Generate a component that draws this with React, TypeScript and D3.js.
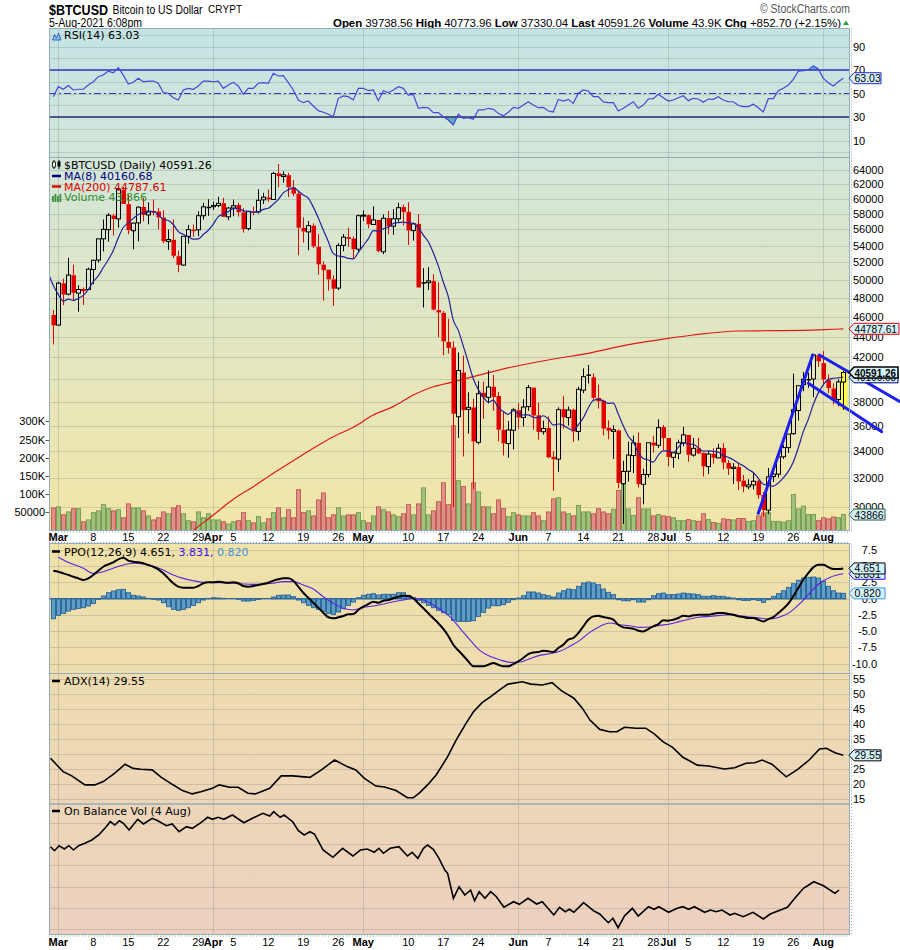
import React from 'react';
import * as d3 from 'd3';

// ---------------- data (daily, first bar = 28-Feb-2021) ----------------
const opens = [46194,
  45159, 49612, 48416, 50522, 48527, 48899, 48919, 51174, 52273, 54824, 55964, 57773, 57343, 61221, 59267, 55840, 56826, 58893, 57850, 58332, 58309, 57517, 54511, 54710, 52726, 51683, 55137, 55974, 55947, 57750, 58930,
  58926, 59098, 59397, 57604, 58760, 59171, 58186, 56099, 58326, 58253, 59846, 60175, 59890, 63523, 63075, 63258, 61530, 60702, 56191, 55681, 56471, 53857, 51739, 51143, 50052, 49077, 54030, 55036, 54858, 53568,
  57714, 57825, 56621, 57214, 53252, 57441, 56413, 57352, 58877, 58251, 55847, 56714, 49735, 49682, 49855, 46716, 46415, 43489, 42944, 36753, 40596, 37371, 37531, 34701, 38795, 38393, 39316, 38508, 35684, 34607, 35659,
  37293, 36699, 37599, 39242, 36880, 35538, 35835, 33589, 33416, 37389, 36697, 37340, 35555, 39016, 40427, 40168, 38341, 38099, 35854, 35563, 35641, 31623, 32515, 33682, 34659, 31576, 32283, 34679, 34475, 35908,
  35035, 33549, 33854, 34665, 35285, 33724, 34225, 33889, 32862, 33812, 33509, 34254, 33125, 32724, 32827, 31841, 31397, 31534, 31800, 30838, 29796, 32138, 32305, 33593, 34290, 35384, 37276, 39504, 40010, 40017, 42207,
  41461, 39908, 39164, 38207, 39738.56];
const highs = [46716,
  49784, 50127, 52535, 51735, 49396, 49147, 51384, 52314, 54824, 57258, 58092, 58011, 61683, 61597, 60540, 56833, 58970, 60116, 59498, 59888, 58767, 58471, 55985, 57262, 53392, 55137, 56568, 56610, 58342, 59447, 59930,
  59586, 60267, 60110, 58913, 59891, 59479, 58731, 58338, 58937, 61276, 60790, 61253, 63742, 64863, 63821, 63594, 62572, 61057, 57520, 57062, 56757, 55410, 52120, 51167, 50506, 54288, 55416, 56227, 55115, 57900,
  58448, 57902, 58973, 57214, 57912, 58363, 58606, 59464, 59210, 59520, 56872, 57939, 51330, 51438, 50639, 49720, 46623, 45800, 43546, 42462, 42172, 38832, 38271, 39835, 39776, 40782, 40379, 38856, 37234, 36400, 37469,
  37896, 38231, 39478, 39242, 37917, 36436, 36790, 34017, 37537, 38492, 37608, 37436, 39322, 40978, 41295, 40516, 39513, 38187, 36457, 36059, 35721, 33292, 34753, 35228, 35487, 32707, 34656, 35219, 36542, 36074,
  35035, 33940, 34909, 35937, 35284, 35038, 35059, 33908, 34042, 34239, 34592, 34633, 33340, 33115, 33159, 32249, 31935, 32398, 31885, 31006, 32752, 32576, 33581, 34490, 35364, 40499, 39406, 40640, 40578, 42236, 42236,
  42599, 40420, 39619, 39970, 40773.96];
const lows = [43241,
  45115, 47228, 48275, 47656, 46542, 47257, 48918, 49507, 51981, 53290, 54484, 55240, 56218, 59302, 55393, 53555, 54528, 57023, 56643, 57779, 56005, 54288, 53470, 52514, 50856, 51579, 54242, 55072, 55139, 57251, 57726,
  58505, 58870, 57603, 57168, 57694, 57646, 55604, 55879, 57807, 58038, 59289, 59589, 59869, 61554, 62208, 60222, 60361, 52829, 54368, 53448, 53695, 50583, 47714, 48805, 47159, 48852, 53319, 53887, 52418, 53129,
  57052, 56141, 56590, 53191, 52969, 55382, 55321, 56975, 56483, 54072, 54608, 49150, 46980, 48868, 46664, 43963, 42207, 42367, 30000, 35050, 33616, 35383, 31227, 34551, 36581, 37868, 37247, 34779, 33693, 33520, 34153,
  35787, 35966, 37243, 35717, 34900, 35304, 33480, 31114, 32475, 35786, 36044, 34748, 34848, 38757, 39609, 38176, 37439, 35255, 34933, 33432, 31295, 28893, 31772, 32385, 31351, 30184, 32071, 33902, 34252, 34086,
  32883, 32771, 33403, 34396, 33213, 33600, 33777, 32133, 32318, 33069, 33504, 32658, 32243, 31600, 31175, 31021, 31223, 31216, 30563, 29360, 29526, 31745, 32057, 33424, 33881, 35287, 36441, 38934, 39229, 38397, 41110,
  39422, 38746, 37782, 37640, 37330.04];
const closes = [45137,
  49631, 48378, 50538, 48561, 48927, 48912, 51206, 52246, 54824, 56008, 57805, 57332, 61243, 59302, 55907, 56804, 58870, 57858, 58346, 58313, 57523, 54529, 54738, 52774, 51704, 55137, 55974, 55947, 57750, 58917, 58918,
  59095, 59384, 57604, 58759, 59057, 58192, 56048, 58323, 58245, 59793, 60204, 59893, 63503, 63109, 63314, 61572, 60683, 56216, 55724, 56473, 53906, 51762, 51093, 50050, 49004, 54021, 55033, 54824, 53555, 57750,
  57828, 56631, 57200, 53333, 57424, 56396, 57356, 58803, 58232, 55859, 56704, 49150, 49716, 49880, 46760, 46456, 43537, 42910, 37002, 40782, 37304, 37536, 34770, 38705, 38402, 39294, 38436, 35697, 34616, 35678, 37333,
  36693, 37568, 39248, 36857, 35520, 35796, 33552, 33403, 37345, 36703, 37313, 35551, 39097, 40218, 40406, 38347, 38053, 35787, 35615, 35698, 31676, 32506, 33723, 34663, 31594, 32276, 34668, 34455, 35867, 35040,
  33573, 33897, 34668, 35287, 33746, 34235, 33855, 32877, 33798, 33520, 34240, 33155, 32702, 32822, 31780, 31421, 31533, 31796, 30817, 29807, 32110, 32314, 33581, 34292, 35350, 37337, 39406, 39996, 40008, 42235, 41626,
  39975, 39201, 38153, 39747, 40591.26];
// closes 20-Feb .. 27-Feb (needed for the 8-day average at the left edge)
const priorCloses = [55888, 57539, 54208, 48825, 49705, 47093, 46339, 46188];

const volumesK = [62, 65, 43, 51, 60, 60, 24, 29, 49, 54, 71, 60, 54, 57, 35, 73, 62, 62, 54, 40, 29, 35, 51, 46, 62, 68, 46, 27, 24, 51, 35, 46, 29, 29, 24, 18, 24, 27, 49, 27,
  21, 38, 21, 32, 49, 62, 35, 57, 35, 112, 49, 54, 40, 84, 103, 35, 43, 62, 40, 43, 43, 49, 27, 21, 40, 65, 57, 51, 43, 38, 46, 71, 43, 73, 117, 43, 54, 79, 131, 71,
  288, 137, 121, 73, 131, 106, 65, 65, 46, 84, 60, 38, 49, 43, 40, 40, 49, 40, 27, 51, 87, 90,
  51, 46, 40, 69, 51, 51, 46, 60, 51, 46, 58, 110, 128, 59, 41, 90, 59, 59, 40, 44, 40, 38, 35, 27, 27, 30, 27, 25, 46, 30,
  22, 20, 32, 30, 29, 33, 33, 25, 27, 40, 48, 50, 25, 25, 23, 27, 99, 59, 67, 44, 44, 27, 35, 32, 37, 35, 43.866];

const rsi14 = [47.3, 55.8, 53.6, 56.7, 53.0, 53.6, 53.6, 57.2, 60.0, 64.3, 65.7, 69.1, 67.7, 72.0, 65.7, 58.1, 59.5, 62.9, 60.0, 60.6, 60.6, 58.7, 50.7, 50.2, 46.4, 44.5, 53.0, 54.4, 53.6, 56.4,
  60.6, 60.6, 60.0, 60.6, 54.4, 57.2, 59.5, 56.4, 49.3, 54.4, 54.4, 58.7, 59.2, 58.7, 67.2, 64.9, 65.2, 59.2, 53.0, 44.5, 42.2, 43.6, 39.4, 35.4, 34.0, 32.3, 30.3, 45.9, 47.9, 47.3,
  44.5, 54.4, 54.4, 52.4, 53.0, 43.9, 52.4, 50.7, 53.0, 55.8, 54.4, 48.7, 49.3, 37.4, 38.2, 37.9, 33.7, 33.7, 30.3, 27.4,
  23.2, 32.3, 28.9, 29.4, 28.0, 36.0, 36.0, 37.4, 36.5, 33.1, 31.1, 34.0, 38.2, 37.4, 40.2, 43.0, 40.2, 37.9, 38.2, 35.1, 34.3, 45.0, 43.6, 45.0, 41.6, 50.2, 53.0, 52.1, 47.3, 47.3,
  42.8, 42.2, 42.2, 35.1, 37.4, 40.2, 43.0, 37.4, 40.2, 45.3, 45.6, 49.3, 46.4, 43.6, 44.5, 46.4, 48.1, 43.9, 45.9, 45.3, 42.5, 45.3, 45.0, 47.3, 44.5, 43.0, 43.0, 40.0, 38.8, 38.8,
  40.8, 37.9, 34.3, 45.6, 45.6, 52.4, 54.4, 57.2, 62.1, 69.1, 69.4, 70.0, 73.7, 70.9, 62.9, 59.2, 56.4, 60.0, 63.03];

const ppoLine = [4.31, 4.15, 3.90, 3.65, 3.38, 3.13, 2.88, 3.13, 3.65, 4.31, 4.92, 5.29, 5.60, 6.06, 6.31, 5.85, 5.69, 5.60, 5.45, 5.18, 4.92, 4.52, 3.90, 3.13, 2.37, 1.85, 1.69, 1.69, 1.69, 1.95,
  2.37, 2.52, 2.52, 2.62, 2.52, 2.46, 2.52, 2.37, 1.95, 1.85, 1.95, 2.10, 2.26, 2.46, 2.77, 2.98, 3.13, 3.13, 2.77, 1.85, 0.92, 0.15, -0.62, -1.38, -2.15, -2.86, -3.02, -2.86, -2.66, -2.40,
  -2.35, -1.74, -1.23, -0.82, -0.46, -0.62, -0.31, -0.20, 0.06, 0.31, 0.46, 0.40, 0.06, -0.71, -1.48, -2.25, -3.02, -3.78, -4.66, -5.74,
  -7.08, -7.95, -8.77, -9.64, -10.4, -10.4, -10.4, -10.15, -9.9, -10.15, -10.4, -10.4, -10.05, -9.64, -9.13, -8.51, -8.26, -8.2, -8.0, -8.1, -8.2, -7.59, -7.08, -6.3, -6.05, -5.28, -4.26, -3.23, -2.72, -2.62,
  -2.82, -2.97, -3.23, -4.0, -4.41, -4.51, -4.62, -4.92, -5.03, -4.67, -4.26, -3.9, -3.33, -3.38, -3.23, -2.97, -2.62, -2.72, -2.56, -2.46, -2.46, -2.46, -2.31, -2.2, -2.2, -2.36, -2.46, -2.72, -2.82, -2.97,
  -2.97, -3.23, -3.49, -3.13, -2.82, -2.2, -1.54, -0.77, 0.36, 1.64, 2.92, 3.95, 4.82, 5.23, 5.23, 4.87, 4.56, 4.56, 4.651];

const ppoHist = [-3.08, -2.56, -2.26, -1.9, -1.64, -1.49, -1.38, -1.13, -0.72, -0.1, 0.41, 0.92, 1.18, 1.38, 1.44, 0.92, 0.51, 0.41, 0.26, 0.05, -0.1, -0.2, -0.62, -1.23, -1.64, -1.79, -1.64, -1.38, -1.03, -0.62,
  -0.2, 0.05, 0.15, 0.1, 0.05, 0, 0, -0.1, -0.36, -0.36, -0.26, -0.1, 0, 0, 0.26, 0.51, 0.56, 0.56, 0.31, -0.2, -0.62, -1.03, -1.38, -1.64, -1.95, -2.26, -2.41, -2.05, -1.54, -1.03,
  -0.51, 0.15, 0.51, 0.67, 0.77, 0.56, 0.67, 0.67, 0.67, 0.92, 0.92, 0.51, 0.15, -0.26, -0.62, -1.03, -1.38, -1.79, -2.15, -2.41,
  -3.33, -3.49, -3.49, -3.49, -3.38, -2.72, -2.1, -1.44, -1.08, -1.08, -0.92, -0.56, -0.15, 0.1, 0.46, 1.03, 1.03, 0.87, 0.62, 0.46, 0.26, 0.87, 1.23, 1.49, 1.38, 1.9, 2.41, 2.56, 2.41, 2.15,
  1.49, 0.97, 0.62, -0.15, -0.31, -0.31, -0.15, -0.51, -0.51, -0.15, 0.46, 0.77, 0.87, 0.62, 0.62, 0.72, 0.87, 0.77, 0.72, 0.62, 0.36, 0.36, 0.46, 0.36, 0.36, 0.21, 0.1, -0.15, -0.26, -0.26,
  -0.15, -0.26, -0.56, -0.15, 0.36, 0.77, 1.23, 1.74, 2.31, 2.82, 3.18, 3.28, 3.33, 3.18, 2.67, 1.9, 1.23, 0.87, 0.82];

// signal line, read at day offsets from 1-Mar
const signalDays = [0, 1.67, 5, 7, 9, 11, 13, 15, 17, 19, 21, 23, 25, 27, 29, 31, 33, 35, 37, 39, 41, 43, 45, 47, 49, 51, 53, 55, 57, 59, 61, 63, 65, 67, 69, 71, 73, 75, 77, 78.3,
  80.3, 82.3, 84.3, 86.3, 88.3, 90.3, 92.3, 94.3, 96.3, 98.3, 100.3, 102.3, 104.3, 106.3, 108.3, 110.3, 112.3, 114.3, 116.3, 118.3, 120.3, 122.3, 124.3, 126.3, 128.3, 130.3, 132.3, 134.3, 136.3, 138.3, 140.3, 142.3, 144.3, 146.3, 148.3, 150.3, 152.3, 154.3, 157];
const signalValues = [6.37, 5.7, 4.68, 3.9, 4.15, 4.68, 5.18, 5.45, 5.35, 5.0, 4.4, 3.65, 3.13, 2.77, 2.52, 2.46, 2.46, 2.37, 2.26, 2.2, 2.26, 2.37, 2.62, 2.62, 2.1, 1.49, 0.31, -0.71, -1.48, -1.74, -1.33, -1.12, -0.82, -0.46, -0.2, 0.06, -0.2, -0.97, -2.0, -2.75,
  -4.51, -6.3, -7.95, -8.87, -9.38, -9.79, -9.74, -9.23, -8.72, -8.46, -8.1, -7.33, -6.41, -5.18, -4.26, -3.74, -4.0, -4.15, -4.41, -4.36, -4.1, -3.9, -3.49, -3.13, -2.82, -2.72, -2.56, -2.46, -2.62, -2.82, -2.97, -3.13, -2.82, -2.1, -0.77, 0.87, 2.41, 3.28, 3.831];

const ma200Days = [25, 29, 31, 35, 39, 43, 47, 51, 55, 59, 63, 67, 71, 75, 79, 83, 91, 95, 100, 106, 113, 122, 127, 136, 143, 152, 157];
const ma200Values = [27970, 28970, 29470, 30530, 31410, 32370, 33300, 34240, 35140, 35890, 36900, 37600, 38600, 39320, 39750, 40220, 41130, 41500, 41920, 42390, 43120, 43840, 44170, 44570, 44600, 44680, 44787.61];

const adxDays = [-1.56, 0.97, 2.69, 5.33, 7.28, 9.0, 11.3, 13.36, 14.97, 16.46, 18.76, 20.48, 22.77, 24.84, 26.79, 28.51, 30.81, 32.19, 34.25, 35.97, 37.92, 39.42, 42.29, 44.58, 46.88, 50.32, 52.62, 55.26, 57.78, 59.5,
  61.23, 63.52, 65.24, 67.54, 69.83, 70.98, 72.13, 73.85, 75.57, 77.87, 79.59, 81.54, 83.03, 84.76, 86.48, 88.2, 89.92, 92.79, 94.51, 96.81, 98.76, 100.6, 103.12, 104.84, 106.33, 108.29, 110.24, 111.73, 113.22, 115.52,
  117.47, 119.19, 120.91, 122.86, 124.93, 127.8, 130.09, 133.19, 135.26, 137.55, 139.28, 140.77, 142.72, 145.59, 147.88, 150.18, 152.25, 153.62, 155.34, 157];
const adxValues = [28.6, 24.1, 22.7, 19.7, 19.7, 20.8, 23.6, 26.6, 25.2, 24.9, 24.7, 22.4, 19.9, 17.8, 16.7, 17.4, 18.6, 19.7, 18.9, 18.9, 16.9, 16.7, 18.6, 22.7, 22.7, 22.2, 24.7, 28.0, 25.8, 24.7,
  21.9, 19.3, 19.0, 17.8, 15.4, 15.4, 16.9, 19.7, 23.0, 29.1, 34.7, 40.2, 44.1, 47.1, 49.1, 51.3, 53.3, 54.1, 53.3, 53.0, 53.8, 51.1, 48.6, 45.2, 41.3, 38.2, 37.4, 37.4, 38.9, 38.6,
  38.6, 36.7, 34.1, 32.2, 28.9, 26.3, 26.0, 25.0, 25.4, 26.9, 27.1, 28.0, 26.6, 22.4, 24.9, 28.0, 31.7, 31.9, 30.4, 29.55];

const obvDays = [-1.56, -0.76, 0.16, 1.2, 2.12, 3.04, 4.06, 5.32, 6.7, 8.08, 9.58, 10.38, 11.3, 12.22, 13.02, 14.16, 15.88, 17.04, 18.76, 19.9, 21.62, 22.78, 24.16, 25.64, 26.8, 28.52, 29.88, 30.8, 31.96, 33.1,
  34.82, 37.12, 38.84, 40.9, 42.28, 43.08, 44.36, 45.16, 46.88, 48.02, 49.18, 50.32, 51.24, 52.96, 54.92, 56.86, 58.92, 60.42, 61.8, 63.18, 64.1, 65.02, 66.38, 68.12, 69.84, 70.76, 71.9, 73.04, 73.84, 75.0,
  76.14, 77.3, 77.86, 79.02, 80.16, 81.3, 82.46, 83.26, 84.18, 85.32, 86.48, 87.62, 89.12, 91.06, 92.22, 93.94, 95.66, 96.8, 99.1, 100.24, 101.4, 102.2, 103.12, 105.06, 107.14, 108.28, 110.0, 110.92, 111.96, 113.22,
  114.82, 115.98, 118.04, 119.18, 120.1, 122.06, 123.78, 124.92, 126.08, 127.22, 129.28, 130.44, 131.58, 132.74, 134.34, 135.26, 136.98, 138.94, 141.0, 142.38, 145.82, 147.3, 149.02, 151.1, 153.04, 155.34, 156.14];
const obvValuesK = [4882, 4693, 4929, 4774, 4929, 4726, 4929, 5042, 5198, 5434, 5825, 6061, 5906, 6108, 5986, 5670, 6175, 5953, 6222, 6108, 5873, 5953, 5590, 5825, 5750, 6014, 6269, 6175, 6269, 6175,
  6377, 6014, 6222, 6458, 6330, 6533, 6269, 6377, 6061, 5637, 5434, 5590, 5481, 4726, 4382, 4807, 4443, 4726, 4774, 4618, 4807, 4571, 4807, 4882, 4443, 4618, 4335, 4807, 4962, 4759,
  4335, 3783, 3627, 2448, 2995, 2604, 2840, 2335, 2759, 2448, 2759, 2524, 2024, 2288, 2165, 2448, 2179, 2288, 1660, 2024, 1816, 1929, 1788, 2241, 1849, 1708, 1297, 1505, 1061, 1613,
  1976, 1613, 2052, 1929, 2052, 1788, 1976, 2052, 1929, 2052, 1788, 1896, 1816, 1896, 1660, 1741, 1580, 1788, 1472, 1708, 2024, 2448, 2920, 3231, 3042, 2684, 2840];

// hand-drawn trend lines (day offset from 1-Mar, price)
const trendFromDay = [140, 152.2, 150];
const trendFromPrice = [29590, 42230, 39630];
const trendToDay = [150.88, 168.34, 164.68];
const trendToPrice = [42230, 38020, 35540];

const priceTicks = [30000, 32000, 34000, 36000, 38000, 40000, 42000, 44000, 46000, 48000, 50000, 52000, 54000, 56000, 58000, 60000, 62000, 64000];
const volumeTicks = [50, 100, 150, 200, 250, 300];
const volumeTickLabels = ['50000', '100K', '150K', '200K', '250K', '300K'];
const rsiTicks = [10, 30, 50, 70, 90];
const ppoTicks = [7.5, 5, 2.5, 0, -2.5, -5, -7.5, -10];
const ppoTickLabels = ['7.5', '5.0', '2.5', '0.0', '-2.5', '-5.0', '-7.5', '-10.0'];
const adxTicks = [15, 20, 25, 30, 35, 40, 45, 50, 55];
const obvGrid = [1000, 2000, 3000, 4000, 5000, 6000];
const monthTicks = ['2021-03-01', '2021-04-01', '2021-05-01', '2021-06-01', '2021-07-01', '2021-08-01'];
const monthLabels = ['Mar', 'Apr', 'May', 'Jun', 'Jul', 'Aug'];
const dayTicks = ['2021-03-08', '2021-03-15', '2021-03-22', '2021-03-29', '2021-04-05', '2021-04-12', '2021-04-19', '2021-04-26', '2021-05-10', '2021-05-17', '2021-05-24', '2021-06-07', '2021-06-14', '2021-06-21', '2021-06-28', '2021-07-05', '2021-07-12', '2021-07-19', '2021-07-26'];
const dayLabels = ['8', '15', '22', '29', '5', '12', '19', '26', '10', '17', '24', '7', '14', '21', '28', '5', '12', '19', '26'];

const AX = 'Liberation Sans, Arial, sans-serif';
const LG = 'DejaVu Sans, Verdana, sans-serif';

function Tag({ y, text, stroke, w, bold = false, sw = 1 }: any) {
  const x0 = 849, h = 11;
  const d = `M${x0},${y} L${x0 + 5},${y - h / 2} L${x0 + w},${y - h / 2} L${x0 + w},${y + h / 2} L${x0 + 5},${y + h / 2} Z`;
  const long = text.length > 6;
  return (
    <g>
      <path d={d} fill="#d4f2fb" stroke={stroke} strokeWidth={sw} />
      <text x={x0 + 5.5} y={y + 4} fontSize={10.5} fontFamily={AX} fontWeight={bold ? 'bold' : 'normal'} fill="#000"
        textLength={long ? w - 7.5 : undefined} lengthAdjust="spacingAndGlyphs">{text}</text>
    </g>
  );
}

export default function App() {
  const DAY = 864e5;
  const MAR1 = Date.UTC(2021, 2, 1);
  const x = d3.scaleUtc().domain([new Date(MAR1), new Date(Date.UTC(2021, 7, 5))]).range([58.3, 843.3]);
  const xd = (d: number) => x(new Date(MAR1 + d * DAY));
  const xi = (i: number) => xd(i - 1);
  const xDate = (s: string) => x(new Date(s + 'T00:00:00Z'));

  const L = 49, R = 850;
  const P = {
    rsi: [28.5, 157.5], price: [157.5, 530.5], ppo: [543.5, 673.5], adx: [673.5, 804], obv: [804, 934.5],
  } as Record<string, number[]>;

  const yRsi = d3.scaleLinear().domain([10, 90]).range([140.5, 46.5]);
  const yP = d3.scaleLog().domain([30000, 64000]).range([507.1, 170]);
  const yV = d3.scaleLinear().domain([0, 300]).range([530.5, 421.3]);
  const yPpo = d3.scaleLinear().domain([-10, 7.5]).range([663.7, 549.95]);
  const yAdx = d3.scaleLinear().domain([15, 55]).range([799, 679]);
  const yObv = d3.scaleLinear().domain([1000, 6000]).range([929, 823]);

  const n = Math.min(opens.length, highs.length, lows.length, closes.length);
  const allCloses = priorCloses.concat(closes);
  const ma8: [number, number][] = [];
  for (let k = 7; k < allCloses.length; k++) {
    const m = d3.mean(allCloses.slice(k - 7, k + 1)) as number;
    ma8.push([k - priorCloses.length, m]);
  }

  const rsiLine = d3.line<number>().x((_, i) => xi(i)).y((v) => yRsi(v))(rsi14) as string;
  const rsiLow = d3.area<number>().x((_, i) => xi(i)).y0(yRsi(30)).y1((v) => yRsi(v))(rsi14) as string;
  const rsiHigh = d3.area<number>().x((_, i) => xi(i)).y0(yRsi(70)).y1((v) => yRsi(v))(rsi14) as string;
  const ma8Path = d3.line<[number, number]>().x((p) => xi(p[0])).y((p) => yP(p[1])).curve(d3.curveMonotoneX)(ma8) as string;
  const ma200Path = d3.line<number>().x((_, i) => xd(ma200Days[i])).y((v) => yP(v)).curve(d3.curveMonotoneX)(ma200Values) as string;
  const ppoPath = d3.line<number>().x((_, i) => xi(i)).y((v) => yPpo(v)).curve(d3.curveMonotoneX)(ppoLine) as string;
  const sigPath = d3.line<number>().x((_, i) => xd(signalDays[i])).y((v) => yPpo(v)).curve(d3.curveMonotoneX)(signalValues) as string;
  const adxPath = d3.line<number>().x((_, i) => xd(adxDays[i])).y((v) => yAdx(v))(adxValues) as string;
  const obvPath = d3.line<number>().x((_, i) => xd(obvDays[i])).y((v) => yObv(v))(obvValuesK) as string;

  const panelKeys = ['rsi', 'price', 'ppo', 'adx', 'obv'];
  const snap = (v: number) => Math.round(v) + 0.5;
  const grid = 'rgba(90,110,110,0.22)';

  const monthX = monthTicks.map((m) => snap(xDate(m)));

  const axisLabels = (yBase: number) => (
    <g fontFamily={AX} fontSize={11} fill="#000" textAnchor="middle">
      {monthTicks.map((m, i) => (
        <text key={'m' + i} x={xDate(m)} y={yBase} fontWeight="bold">{monthLabels[i]}</text>
      ))}
      {dayTicks.map((m, i) => (
        <text key={'d' + i} x={xDate(m)} y={yBase}>{dayLabels[i]}</text>
      ))}
    </g>
  );

  const last = n - 1;
  const lastX = Math.round(xi(last));

  return (
    <svg width={900} height={950} style={{ position: 'absolute', left: 0, top: 0, background: '#fff' }} xmlns="http://www.w3.org/2000/svg">
      <defs>
        <linearGradient id="bg" gradientUnits="userSpaceOnUse" x1="0" y1="28" x2="0" y2="935">
          <stop offset="0" stopColor="#c4e4e3" />
          <stop offset="0.14" stopColor="#d3e6d9" />
          <stop offset="0.3" stopColor="#dee6c6" />
          <stop offset="0.55" stopColor="#f2e6a8" />
          <stop offset="0.58" stopColor="#f0e1a9" />
          <stop offset="0.71" stopColor="#eedcb0" />
          <stop offset="0.85" stopColor="#edd6b8" />
          <stop offset="1" stopColor="#ecd1bf" />
        </linearGradient>
        {panelKeys.map((k) => (
          <clipPath id={'clip-' + k} key={k}>
            <rect x={L} y={P[k][0]} width={R - L} height={P[k][1] - P[k][0]} />
          </clipPath>
        ))}
        <clipPath id="clip-rsi-low"><rect x={L} y={yRsi(30)} width={R - L} height={P.rsi[1] - yRsi(30)} /></clipPath>
        <clipPath id="clip-rsi-high"><rect x={L} y={P.rsi[0]} width={R - L} height={yRsi(70) - P.rsi[0]} /></clipPath>
      </defs>

      {/* header */}
      <text x={49} y={14.5} fontFamily={AX} fontWeight="bold" fontSize={15} textLength={59} lengthAdjust="spacingAndGlyphs">$BTCUSD</text>
      <text x={112.5} y={14} fontFamily={AX} fontSize={12.5} textLength={90} lengthAdjust="spacingAndGlyphs">Bitcoin to US Dollar</text>
      <text x={208} y={13} fontFamily={AX} fontSize={10} textLength={34} lengthAdjust="spacing">CRYPT</text>
      <text x={49} y={26.5} fontFamily={AX} fontSize={12} textLength={93} lengthAdjust="spacingAndGlyphs">5-Aug-2021 6:08pm</text>
      <text x={333} y={26.5} fontFamily={AX} fontSize={11.5} textLength={508} lengthAdjust="spacing">
        <tspan fontWeight="bold">Open</tspan> 39738.56  <tspan fontWeight="bold">High</tspan> 40773.96  <tspan fontWeight="bold">Low</tspan> 37330.04  <tspan fontWeight="bold">Last</tspan> 40591.26  <tspan fontWeight="bold">Volume</tspan> 43.9K  <tspan fontWeight="bold">Chg</tspan> +852.70 (+2.15%)
      </text>
      <path d="M843,25 L846,20.5 L849,25 Z" fill="#2e9e3e" />
      <text x={760} y={13} fontFamily={AX} fontSize={12} fill="#555" textLength={90} lengthAdjust="spacingAndGlyphs">© StockCharts.com</text>

      {/* panel backgrounds */}
      {panelKeys.map((k) => (
        <rect key={'bg' + k} x={L} y={P[k][0]} width={R - L} height={P[k][1] - P[k][0]} fill="url(#bg)" />
      ))}

      {/* vertical month grid lines */}
      {panelKeys.map((k) => (
        <g key={'vg' + k}>
          {monthX.map((mx, i) => (
            <line key={i} x1={mx} x2={mx} y1={P[k][0]} y2={P[k][1]} stroke={grid} />
          ))}
        </g>
      ))}

      {/* ---------- RSI panel ---------- */}
      <g>
        {d3.range(0, 101, 10).map((v) => (
          <line key={v} x1={L} x2={R} y1={snap(yRsi(v))} y2={snap(yRsi(v))} stroke={grid} />
        ))}
        <g clipPath="url(#clip-rsi)">
          <path d={rsiLow} fill="#5aaec0" clipPath="url(#clip-rsi-low)" />
          <path d={rsiHigh} fill="#5aaec0" clipPath="url(#clip-rsi-high)" />
          <line x1={L} x2={R} y1={yRsi(70)} y2={yRsi(70)} stroke="#3434c8" strokeWidth={1.3} />
          <line x1={L} x2={R} y1={yRsi(30)} y2={yRsi(30)} stroke="#2a2a70" strokeWidth={1.3} />
          <line x1={L} x2={R} y1={yRsi(50)} y2={yRsi(50)} stroke="#3434c8" strokeWidth={1.1} strokeDasharray="7,3,2,3" />
          <path d={rsiLine} fill="none" stroke="#4646dc" strokeWidth={1.2} />
        </g>
        <path d="M52.5,40 L54.5,34.5 L56.5,38 L58.5,33 L61,40 Z" fill="#7dc3d8" stroke="#3344cc" strokeWidth={0.8} />
        <text x={64} y={38.5} fontFamily={LG} fontSize={11}>RSI(14) 63.03</text>
        <g fontFamily={AX} fontSize={11}>
          {rsiTicks.map((v) => (
            <text key={v} x={853} y={yRsi(v) + 4}>{v}</text>
          ))}
        </g>
      </g>

      {/* ---------- price panel ---------- */}
      <g>
        {priceTicks.map((v) => (
          <line key={v} x1={L} x2={R} y1={snap(yP(v))} y2={snap(yP(v))} stroke={grid} />
        ))}
        <g clipPath="url(#clip-price)">
          {volumesK.slice(0, n).map((v, i) => {
            const up = i === 0 ? false : closes[i] >= closes[i - 1];
            const cx = Math.round(xi(i));
            return (
              <rect key={i} x={cx - 1.5} y={yV(v)} width={4} height={yV(0) - yV(v)}
                fill={up ? '#a4c07e' : '#dc9287'} stroke={up ? '#78a052' : '#c75d55'} strokeWidth={1} />
            );
          })}
          <path d={ma200Path} fill="none" stroke="#e01818" strokeWidth={1.2} />
          <rect x={lastX - 3} y={yP(highs[last])} width={7} height={yP(lows[last]) - yP(highs[last])} fill="#ffff40" />
          {d3.range(n).map((i) => {
            const o = opens[i], c = closes[i];
            const h = Math.max(highs[i], o, c), l = Math.min(lows[i], o, c);
            const prev = i > 0 ? closes[i - 1] : o;
            const color = c >= prev ? '#000' : '#e00000';
            const cx = Math.round(xi(i));
            const yt = yP(Math.max(o, c)), yb = yP(Math.min(o, c));
            const hollow = c >= o;
            return (
              <g key={i}>
                <line x1={cx + 0.5} x2={cx + 0.5} y1={yP(h)} y2={yt} stroke={color} />
                <line x1={cx + 0.5} x2={cx + 0.5} y1={yb} y2={yP(l)} stroke={color} />
                {hollow ? (
                  <rect x={cx - 1.5} y={yt} width={4} height={Math.max(1, yb - yt)} fill="none" stroke={color} />
                ) : (
                  <rect x={cx - 1.5} y={yt} width={4.5} height={Math.max(1.5, yb - yt)} fill={color} />
                )}
              </g>
            );
          })}
          <path d={ma8Path} fill="none" stroke="#22229a" strokeWidth={1.2} />
        </g>
        {/* legend */}
        <g>
          <line x1={54} x2={54} y1={160} y2={169} stroke="#000" />
          <rect x={52.5} y={162} width={3} height={5} fill="#fff" stroke="#000" strokeWidth={0.8} />
          <line x1={59} x2={59} y1={160} y2={169} stroke="#000" />
          <rect x={57.5} y={161.5} width={3} height={5} fill="#000" />
          <text x={64} y={169} fontFamily={LG} fontSize={11}>$BTCUSD (Daily) 40591.26</text>
          <line x1={52} x2={61} y1={176} y2={176} stroke="#000080" strokeWidth={2.5} />
          <text x={64} y={180} fontFamily={LG} fontSize={11} fill="#000080">MA(8) 40160.68</text>
          <line x1={52} x2={61} y1={186.5} y2={186.5} stroke="#e00000" strokeWidth={2.5} />
          <text x={64} y={190.5} fontFamily={LG} fontSize={11} fill="#e00000">MA(200) 44787.61</text>
          {[0, 1, 2, 3].map((k) => (
            <rect key={k} x={52 + k * 2.5} y={194 + (k % 2 === 0 ? 2 : 0)} width={1.8} height={k % 2 === 0 ? 6 : 8} fill="#3d8c3d" />
          ))}
          <text x={64} y={201} fontFamily={LG} fontSize={11} fill="#2e8b2e">Volume 43,866</text>
        </g>
        <g fontFamily={AX} fontSize={11}>
          {priceTicks.map((v) => (
            <text key={v} x={853} y={yP(v) + 4}>{v}</text>
          ))}
        </g>
        <g fontFamily={AX} fontSize={11} textAnchor="end">
          {volumeTicks.map((v, i) => (
            <g key={v}>
              <text x={45} y={yV(v) + 4}>{volumeTickLabels[i]}</text>
              <line x1={45.5} x2={49} y1={snap(yV(v))} y2={snap(yV(v))} stroke="#555" />
            </g>
          ))}
        </g>
        {/* trend lines */}
        {trendFromDay.map((d0, i) => (
          <line key={i} x1={xd(d0)} y1={yP(trendFromPrice[i])} x2={xd(trendToDay[i])} y2={yP(trendToPrice[i])}
            stroke="#1e1ef0" strokeWidth={3} strokeLinecap="round" />
        ))}
      </g>

      {/* ---------- PPO panel ---------- */}
      <g>
        {ppoTicks.map((v) => (
          <line key={v} x1={L} x2={R} y1={snap(yPpo(v))} y2={snap(yPpo(v))} stroke={grid} />
        ))}
        <g clipPath="url(#clip-ppo)">
          {ppoHist.slice(0, n).map((v, i) => {
            const cx = Math.round(xi(i));
            const y0 = yPpo(0), y1 = yPpo(v);
            return (
              <rect key={i} x={cx - 1.5} y={Math.min(y0, y1)} width={4} height={Math.abs(y1 - y0)}
                fill="#5f9dc7" stroke="#2e6b9b" strokeWidth={1} />
            );
          })}
          <line x1={L} x2={xi(n - 1) + 3} y1={yPpo(0)} y2={yPpo(0)} stroke="#2e6b9b" strokeWidth={1.3} />
          <path d={sigPath} fill="none" stroke="#5a22e0" strokeWidth={1.1} />
          <path d={ppoPath} fill="none" stroke="#000" strokeWidth={2} />
        </g>
        <line x1={52} x2={60} y1={551.5} y2={551.5} stroke="#000" strokeWidth={2.5} />
        <text x={64} y={555.5} fontFamily={LG} fontSize={11}>
          PPO(12,26,9) 4.651, <tspan fill="#3a10ee">3.831, </tspan><tspan fill="#3a96dd">0.820</tspan>
        </text>
        <g fontFamily={AX} fontSize={11} textAnchor="end">
          {ppoTicks.map((v, i) => (
            <text key={v} x={877} y={yPpo(v) + 4}>{ppoTickLabels[i]}</text>
          ))}
        </g>
      </g>

      {/* ---------- ADX panel ---------- */}
      <g>
        {adxTicks.map((v) => (
          <line key={v} x1={L} x2={R} y1={snap(yAdx(v))} y2={snap(yAdx(v))} stroke={grid} />
        ))}
        <g clipPath="url(#clip-adx)">
          <path d={adxPath} fill="none" stroke="#000" strokeWidth={1.6} />
        </g>
        <line x1={52} x2={60} y1={681} y2={681} stroke="#000" strokeWidth={2.5} />
        <text x={64} y={685} fontFamily={LG} fontSize={11}>ADX(14) 29.55</text>
        <g fontFamily={AX} fontSize={11}>
          {adxTicks.map((v) => (
            <text key={v} x={853} y={yAdx(v) + 4}>{v}</text>
          ))}
        </g>
      </g>

      {/* ---------- OBV panel ---------- */}
      <g>
        {obvGrid.map((v) => (
          <line key={v} x1={L} x2={R} y1={snap(yObv(v))} y2={snap(yObv(v))} stroke={grid} />
        ))}
        <g clipPath="url(#clip-obv)">
          <path d={obvPath} fill="none" stroke="#000" strokeWidth={1.6} />
        </g>
        <line x1={52} x2={60} y1={811} y2={811} stroke="#000" strokeWidth={2.5} />
        <text x={64} y={815} fontFamily={LG} fontSize={11}>On Balance Vol (4 Aug)</text>
      </g>

      {/* panel frames */}
      {panelKeys.map((k) => (
        <g key={'fr' + k}>
          <rect x={L + 0.5} y={P[k][0]} width={R - L - 1} height={P[k][1] - P[k][0]} fill="none" stroke="#93adbb" strokeWidth={1} />
          <line x1={851.5} x2={851.5} y1={P[k][0]} y2={P[k][1]} stroke="#8ea6b4" strokeDasharray="1,2" />
        </g>
      ))}
      <line x1={L} x2={R} y1={532} y2={532} stroke="#8ea6b4" strokeDasharray="1,2" />
      <line x1={L} x2={R} y1={542.5} y2={542.5} stroke="#8ea6b4" strokeDasharray="1,2" />
      <line x1={L} x2={R} y1={936} y2={936} stroke="#8ea6b4" strokeDasharray="1,2" />

      {/* x axis labels */}
      {axisLabels(541)}
      {axisLabels(945.5)}

      {/* value tags */}
      <Tag y={yRsi(63.03)} text="63.03" stroke="#2a2ad0" w={32} />
      <Tag y={yP(44787.61)} text="44787.61" stroke="#e00000" w={50} />
      <Tag y={yP(40160.68)} text="40160.68" stroke="#000080" w={49} />
      <Tag y={yP(40591.26)} text="40591.26" stroke="#000" w={49} bold sw={1.5} />
      <Tag y={yV(43.866)} text="43866" stroke="#2f5f3f" w={36} />
      <Tag y={yPpo(3.831)} text="3.831" stroke="#3a10ee" w={36} />
      <Tag y={yPpo(4.651)} text="4.651" stroke="#000" w={36} />
      <Tag y={yPpo(0.82)} text="0.820" stroke="#3a96dd" w={36} />
      <Tag y={yAdx(29.55)} text="29.55" stroke="#000" w={32} />
    </svg>
  );
}
